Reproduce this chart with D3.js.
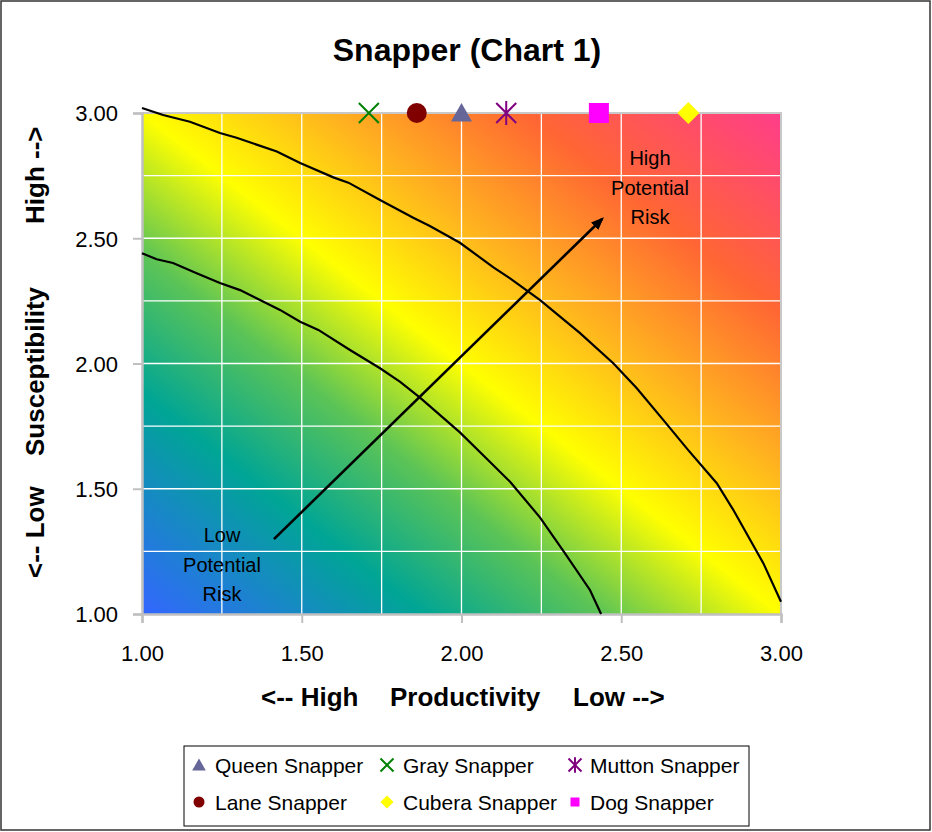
<!DOCTYPE html>
<html>
<head>
<meta charset="utf-8">
<script src="https://cdn.jsdelivr.net/npm/d3@7"></script>
<style>
  body { margin: 0; background: #fff; }
  svg text { font-family: "Liberation Sans", Arial, sans-serif; }
</style>
</head>
<body>
<svg id="chart" width="932" height="832"></svg>
<script>
// species sitting on the top edge (susceptibility 3.00)
var species = ["Queen Snapper", "Gray Snapper", "Mutton Snapper", "Lane Snapper", "Cubera Snapper", "Dog Snapper"];
var productivity = [2.00, 1.71, 2.14, 1.86, 2.71, 2.43];
var susceptibility = [3.00, 3.00, 3.00, 3.00, 3.00, 3.00];
var markerShapes = ["triangle", "x", "star", "circle", "diamond", "square"];
var markerColors = ["#666699", "#008000", "#800080", "#800000", "#ffff00", "#ff00ff"];

// risk boundary curves
var upperX = [1.000, 1.066, 1.150, 1.244, 1.296, 1.422, 1.495, 1.599, 1.646, 1.745, 1.849, 1.901, 1.995, 2.100, 2.152, 2.246, 2.371, 2.475, 2.548, 2.632, 2.709, 2.799, 2.851, 2.945, 3.000];
var upperY = [3.020, 2.992, 2.965, 2.920, 2.901, 2.846, 2.800, 2.743, 2.722, 2.653, 2.582, 2.549, 2.482, 2.384, 2.340, 2.253, 2.121, 2.001, 1.902, 1.774, 1.655, 1.522, 1.415, 1.202, 1.049];
var lowerX = [1.000, 1.046, 1.097, 1.171, 1.244, 1.307, 1.432, 1.495, 1.552, 1.651, 1.745, 1.808, 1.870, 1.995, 2.083, 2.152, 2.246, 2.324, 2.402, 2.437];
var lowerY = [2.440, 2.416, 2.401, 2.360, 2.321, 2.293, 2.214, 2.167, 2.134, 2.054, 1.981, 1.927, 1.864, 1.725, 1.615, 1.528, 1.385, 1.242, 1.096, 1.000];

// arrow from low to high risk
var arrowX = [1.413, 2.440];
var arrowY = [1.299, 2.577];

var xTicks = [1.00, 1.50, 2.00, 2.50, 3.00];
var yTicks = [1.00, 1.50, 2.00, 2.50, 3.00];
var gridSteps = [1.25, 1.50, 1.75, 2.00, 2.25, 2.50, 2.75];

var svg = d3.select("#chart");

var x = d3.scaleLinear().domain([1, 3]).range([142, 781]);
var y = d3.scaleLinear().domain([1, 3]).range([614, 113]);

// outer frame
svg.append("rect")
  .attr("x", 1).attr("y", 1).attr("width", 929).attr("height", 829)
  .style("fill", "#fff").style("stroke", "#333").style("stroke-width", 1.5);

// background gradient
var defs = svg.append("defs");
var grad = defs.append("linearGradient")
  .attr("id", "riskGrad")
  .attr("x1", 0).attr("y1", 1).attr("x2", 1).attr("y2", 0);
var stops = [
  [0, "#3366ff"], [0.22, "#00a595"], [0.36, "#5cc456"],
  [0.5, "#ffff00"], [0.65, "#ffb020"], [0.8, "#ff6633"], [1, "#ff3d8a"]
];
stops.forEach(function(s){
  grad.append("stop").attr("offset", s[0]).attr("stop-color", s[1]);
});

svg.append("rect")
  .attr("x", x(1)).attr("y", y(3))
  .attr("width", x(3) - x(1)).attr("height", y(1) - y(3))
  .style("fill", "url(#riskGrad)");

// white gridlines
var grid = svg.append("g");
grid.selectAll(".gx").data(gridSteps).enter().append("line")
  .attr("x1", function(d){ return x(d); }).attr("x2", function(d){ return x(d); })
  .attr("y1", y(1)).attr("y2", y(3))
  .style("stroke", "#fff").style("stroke-width", 1.3);
grid.selectAll(".gy").data(gridSteps).enter().append("line")
  .attr("y1", function(d){ return y(d); }).attr("y2", function(d){ return y(d); })
  .attr("x1", x(1)).attr("x2", x(3))
  .style("stroke", "#fff").style("stroke-width", 1.3);

// plot border (top/right)
svg.append("path")
  .attr("d", "M" + x(1) + "," + y(3) + "H" + x(3) + "V" + y(1))
  .style("fill", "none").style("stroke", "#c8c8c8").style("stroke-width", 2);

// axes
var xAxis = svg.append("g")
  .attr("transform", "translate(0," + y(1) + ")")
  .call(d3.axisBottom(x).tickValues(xTicks).tickFormat(d3.format(".2f")).tickSize(9).tickPadding(22));
var yAxis = svg.append("g")
  .attr("transform", "translate(" + x(1) + ",0)")
  .call(d3.axisLeft(y).tickValues(yTicks).tickFormat(d3.format(".2f")).tickSize(9).tickPadding(15));
[xAxis, yAxis].forEach(function(a){
  a.select(".domain").style("stroke", "#c0c0c0").style("stroke-width", 2.5);
  a.selectAll(".tick line").style("stroke", "#c0c0c0").style("stroke-width", 2);
  a.selectAll(".tick text")
    .style("font-family", "'Liberation Sans', Arial, sans-serif")
    .style("font-size", "22px").style("fill", "#000");
});
yAxis.selectAll(".tick text").attr("dy", "0.36em");

// risk curves
var line = d3.line()
  .x(function(d){ return x(d[0]); })
  .y(function(d){ return y(d[1]); });

svg.append("path")
  .datum(d3.zip(upperX, upperY))
  .attr("d", line)
  .style("fill", "none").style("stroke", "#000").style("stroke-width", 2.2);
svg.append("path")
  .datum(d3.zip(lowerX, lowerY))
  .attr("d", line)
  .style("fill", "none").style("stroke", "#000").style("stroke-width", 2.2);

// arrow
defs.append("marker")
  .attr("id", "arrowHead")
  .attr("viewBox", "0 0 10 10").attr("refX", 8).attr("refY", 5)
  .attr("markerWidth", 5).attr("markerHeight", 5)
  .attr("orient", "auto")
  .append("path").attr("d", "M0,1 L10,5 L0,9 Z").style("fill", "#000");

svg.append("line")
  .attr("x1", x(arrowX[0])).attr("y1", y(arrowY[0]))
  .attr("x2", x(arrowX[1])).attr("y2", y(arrowY[1]))
  .style("stroke", "#000").style("stroke-width", 2.6)
  .attr("marker-end", "url(#arrowHead)");

// risk labels
function multiLine(lines, cx, baseY){
  var t = svg.append("text")
    .attr("text-anchor", "middle")
    .style("font-size", "20px").style("fill", "#000");
  lines.forEach(function(s, i){
    t.append("tspan").attr("x", cx).attr("y", baseY + i * 29.5).text(s);
  });
}
multiLine(["High", "Potential", "Risk"], 650, 165);
multiLine(["Low", "Potential", "Risk"], 222, 542);

// markers
function markerPath(shape, r){
  if (shape === "triangle") return "M0," + (-r) + "L" + (r * 1.05) + "," + (r * 0.85) + "L" + (-r * 1.05) + "," + (r * 0.85) + "Z";
  if (shape === "circle") return "M" + r + ",0A" + r + "," + r + " 0 1,1 " + (-r) + ",0A" + r + "," + r + " 0 1,1 " + r + ",0Z";
  if (shape === "square") return "M" + (-r) + "," + (-r) + "H" + r + "V" + r + "H" + (-r) + "Z";
  if (shape === "diamond") return "M0," + (-r) + "L" + r + ",0L0," + r + "L" + (-r) + ",0Z";
  if (shape === "x") return "M" + (-r) + "," + (-r) + "L" + r + "," + r + "M" + r + "," + (-r) + "L" + (-r) + "," + r;
  if (shape === "star") return "M" + (-r) + "," + (-r) + "L" + r + "," + r + "M" + r + "," + (-r) + "L" + (-r) + "," + r + "M0," + (-r * 1.2) + "V" + (r * 1.2);
}
function drawMarker(g, i, r){
  var shape = markerShapes[i];
  var stroked = (shape === "x" || shape === "star");
  g.append("path")
    .attr("d", markerPath(shape, r))
    .style("fill", stroked ? "none" : markerColors[i])
    .style("stroke", stroked ? markerColors[i] : "none")
    .style("stroke-width", stroked ? 2 : 0);
}

var pts = svg.append("g");
species.forEach(function(name, i){
  var g = pts.append("g")
    .attr("transform", "translate(" + x(productivity[i]) + "," + y(susceptibility[i]) + ")");
  var r = markerShapes[i] === "circle" ? 10 : (markerShapes[i] === "diamond" ? 11 : 10);
  drawMarker(g, i, r);
});

// title
svg.append("text")
  .attr("x", 467).attr("y", 61)
  .attr("text-anchor", "middle")
  .style("font-size", "32px").style("font-weight", "bold")
  .text("Snapper (Chart 1)");

// axis titles
var xt = svg.append("g").style("font-size", "26px").style("font-weight", "bold");
xt.append("text").attr("x", 261).attr("y", 706).text("<-- High");
xt.append("text").attr("x", 390).attr("y", 706).text("Productivity");
xt.append("text").attr("x", 573).attr("y", 706).text("Low -->");

var yt = svg.append("g")
  .attr("transform", "translate(44,0) rotate(-90)")
  .style("font-size", "26px").style("font-weight", "bold");
yt.append("text").attr("x", -578).attr("y", 0).text("<-- Low");
yt.append("text").attr("x", -456).attr("y", 0).text("Susceptibility");
yt.append("text").attr("x", -224).attr("y", 0).text("High -->");

// legend
svg.append("rect")
  .attr("x", 184).attr("y", 746).attr("width", 565).attr("height", 80)
  .style("fill", "#fff").style("stroke", "#000").style("stroke-width", 1);

var colMarker = [199, 387, 575];
var colText = [215, 403, 590];
var rowY = [765, 802];
species.forEach(function(name, i){
  var col = i % 3, row = Math.floor(i / 3);
  var g = svg.append("g")
    .attr("transform", "translate(" + colMarker[col] + "," + rowY[row] + ")");
  var shape = markerShapes[i];
  var r = shape === "square" ? 4.5 : (shape === "circle" ? 5.5 : 6.5);
  drawMarker(g, i, r);
  svg.append("text")
    .attr("x", colText[col]).attr("y", rowY[row] + 7.5)
    .style("font-size", "21px")
    .text(name);
});
</script>
</body>
</html>
